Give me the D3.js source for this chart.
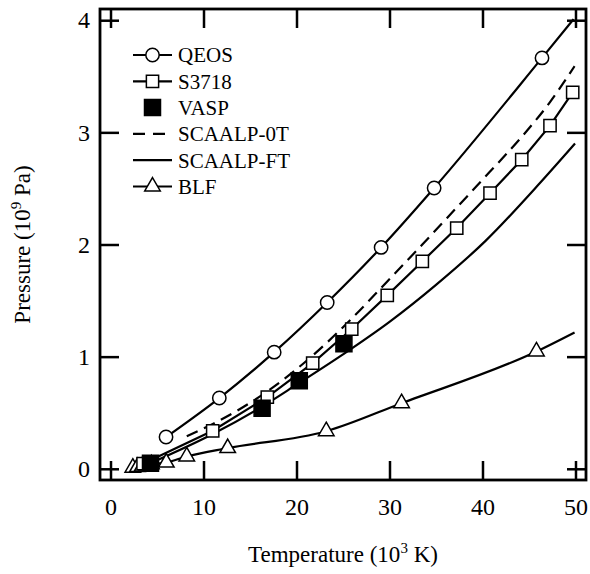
<!DOCTYPE html>
<html><head><meta charset="utf-8">
<script src="https://cdn.jsdelivr.net/npm/d3@7"></script>
<style>body{margin:0;background:#fff} svg text{font-family:"Liberation Serif","Times New Roman",serif;}</style>
</head><body>
<svg id="c" width="590" height="574"></svg>
<script>
// ---- data ----
const xTicks = [0, 10, 20, 30, 40, 50];
const yTicks = [0, 1, 2, 3, 4];

const qeosT = [5.97, 11.7, 17.6, 23.3, 29.1, 34.8, 46.4];
const qeosP = [0.283, 0.631, 1.04, 1.483, 1.974, 2.504, 3.664];
const qeosEnd = [49.8, 4.01];

const s3718T = [3.5, 10.99, 16.86, 21.74, 25.94, 29.76, 33.53, 37.23, 40.81, 44.22, 47.26, 49.7];
const s3718P = [0.045, 0.339, 0.64, 0.943, 1.246, 1.546, 1.849, 2.147, 2.458, 2.756, 3.06, 3.357];

const vaspT = [4.3, 16.3, 20.3, 25.1];
const vaspP = [0.05, 0.54, 0.785, 1.115];

const scaalp0T_T = [8.2, 11, 16.86, 21.74, 25.94, 29.76, 33.53, 37.23, 40.81, 44.22, 47.26, 49.9];
const scaalp0T_P = [0.29, 0.40, 0.69, 1.01, 1.34, 1.67, 2.0, 2.33, 2.65, 2.96, 3.27, 3.59];

const scaalpFT_T = [4.3, 11, 16, 20, 25, 30, 35, 40.3, 46.2, 49.95];
const scaalpFT_P = [0.05, 0.31, 0.54, 0.75, 1.02, 1.31, 1.64, 2.03, 2.55, 2.90];

const blfT = [2.4, 2.9, 3.4, 3.9, 4.4, 6.0, 8.2, 12.6, 23.2, 31.3, 45.8];
const blfP = [0.01, 0.015, 0.02, 0.03, 0.04, 0.056, 0.11, 0.185, 0.335, 0.585, 1.046];
const blfEnd = [49.9, 1.216];

const legendNames = ["QEOS", "S3718", "VASP", "SCAALP-0T", "SCAALP-FT", "BLF"];

// ---- chart ----
const svg = d3.select("#c");
const L = 100, R = 586, T = 9, B = 480;
const x = d3.scaleLinear().domain([-1.13, 51.13]).range([L, R]);
const y = d3.scaleLinear().domain([-0.1, 4.1]).range([B, T]);
const font = "Liberation Serif, Times New Roman, serif";

const zip = (a, b) => a.map((v, i) => [v, b[i]]);
const line = d3.line().x(d => x(d[0])).y(d => y(d[1])).curve(d3.curveMonotoneX);
const sw = 2.2;

function drawLine(pts, dash) {
  svg.append("path").datum(pts).attr("d", line)
    .attr("fill", "none").attr("stroke", "#000").attr("stroke-width", sw)
    .attr("stroke-dasharray", dash || null);
}
const sym = {
  circle: d3.symbol().type(d3.symbolCircle).size(140),
  square: d3.symbol().type(d3.symbolSquare).size(150),
  fsquare: d3.symbol().type(d3.symbolSquare).size(256),
  tri: d3.symbol().type(d3.symbolTriangle).size(105)
};
function drawMarks(pts, kind) {
  svg.append("g").selectAll("path").data(pts).join("path")
    .attr("transform", d => `translate(${x(d[0])},${y(d[1])})`)
    .attr("d", sym[kind])
    .attr("fill", kind === "fsquare" ? "#000" : "#fff")
    .attr("stroke", "#000").attr("stroke-width", 1.5);
}

// lines
drawLine(zip(qeosT, qeosP).concat([qeosEnd]));
drawLine(zip(scaalp0T_T, scaalp0T_P), "12,7");
drawLine(zip(scaalpFT_T, scaalpFT_P));
svg.append("path").datum(zip(s3718T, s3718P))
  .attr("d", d3.line().x(d => x(d[0])).y(d => y(d[1])))
  .attr("fill", "none").attr("stroke", "#000").attr("stroke-width", sw);
drawLine(zip(blfT, blfP).concat([blfEnd]));

// markers
drawMarks(zip(blfT, blfP), "tri");
drawMarks(zip(s3718T, s3718P), "square");
drawMarks(zip(qeosT, qeosP), "circle");
drawMarks(zip(vaspT, vaspP), "fsquare");

// axes
const tickLen = 19;
const gB = svg.append("g").attr("transform", `translate(0,${B})`)
  .call(d3.axisBottom(x).tickValues(xTicks).tickSize(-tickLen).tickPadding(18).tickFormat(d3.format("d")));
const gT = svg.append("g").attr("transform", `translate(0,${T})`)
  .call(d3.axisTop(x).tickValues(xTicks).tickSize(-tickLen).tickFormat(""));
const gL = svg.append("g").attr("transform", `translate(${L},0)`)
  .call(d3.axisLeft(y).tickValues(yTicks).tickSize(-tickLen).tickPadding(10).tickFormat(d3.format("d")));
const gR = svg.append("g").attr("transform", `translate(${R},0)`)
  .call(d3.axisRight(y).tickValues(yTicks).tickSize(-tickLen).tickFormat(""));
[gB, gT, gL, gR].forEach(g => {
  g.attr("font-family", font).attr("font-size", 24);
  g.select(".domain").remove();
  g.selectAll(".tick line").attr("stroke", "#000").attr("stroke-width", 2.5);
  g.selectAll("text").attr("font-family", font).attr("font-size", 24).attr("fill", "#000");
});
svg.append("rect").attr("x", L).attr("y", T).attr("width", R - L).attr("height", B - T)
  .attr("fill", "none").attr("stroke", "#000").attr("stroke-width", 2.8);

// axis titles
const xt = svg.append("text").attr("x", (L + R) / 2).attr("y", 562)
  .attr("text-anchor", "middle").attr("font-family", font).attr("font-size", 23);
xt.append("tspan").text("Temperature (10");
xt.append("tspan").attr("dy", -9).attr("font-size", 15).text("3");
xt.append("tspan").attr("dy", 9).text(" K)");

const yt = svg.append("text").attr("transform", `translate(30,${(T + B) / 2}) rotate(-90)`)
  .attr("text-anchor", "middle").attr("font-family", font).attr("font-size", 23);
yt.append("tspan").text("Pressure (10");
yt.append("tspan").attr("dy", -9).attr("font-size", 15).text("9");
yt.append("tspan").attr("dy", 9).text(" Pa)");

// legend
const lx0 = 133, lx1 = 172, lm = 152.5, ltx = 178, ly0 = 55, ldy = 26.3;
const kinds = ["circle", "square", "fsquare", "dash", "solid", "tri"];
kinds.forEach((k, i) => {
  const yy = ly0 + i * ldy;
  if (k !== "fsquare") {
    svg.append("line").attr("x1", lx0).attr("x2", lx1).attr("y1", yy).attr("y2", yy)
      .attr("stroke", "#000").attr("stroke-width", sw)
      .attr("stroke-dasharray", k === "dash" ? "12,8" : null);
  }
  if (["circle", "square", "fsquare", "tri"].includes(k)) {
    svg.append("path").attr("transform", `translate(${lm},${yy})`).attr("d", sym[k])
      .attr("fill", k === "fsquare" ? "#000" : "#fff").attr("stroke", "#000").attr("stroke-width", 1.5);
  }
  svg.append("text").attr("x", ltx).attr("y", yy).attr("dy", "0.35em")
    .attr("font-family", font).attr("font-size", 21).text(legendNames[i]);
});
</script>
</body></html>
